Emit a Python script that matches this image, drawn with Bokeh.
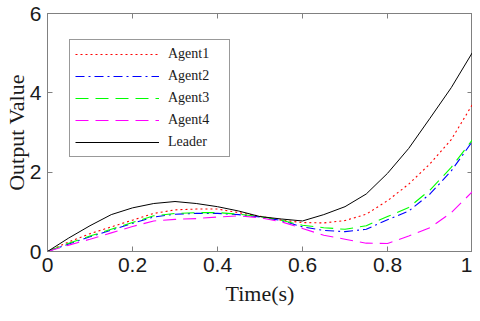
from bokeh.plotting import figure
from bokeh.models import Range1d, LinearAxis, FixedTicker, Legend, LegendItem
from bokeh.embed import file_html
from bokeh.resources import INLINE

time = [0.0, 0.05, 0.1, 0.15, 0.2, 0.25, 0.3, 0.35, 0.4, 0.45, 0.5,
        0.55, 0.6, 0.65, 0.7, 0.75, 0.8, 0.85, 0.9, 0.95, 1.0]
agent1 = [0.0, 0.24, 0.45, 0.62, 0.79, 0.96, 1.05, 1.07, 1.07, 0.98, 0.89,
          0.79, 0.73, 0.72, 0.78, 0.94, 1.28, 1.70, 2.21, 2.82, 3.71]
agent2 = [0.0, 0.19, 0.37, 0.54, 0.71, 0.87, 0.94, 0.96, 0.96, 0.93, 0.87,
          0.78, 0.62, 0.53, 0.50, 0.56, 0.80, 1.02, 1.45, 2.03, 2.78]
agent3 = [0.0, 0.21, 0.39, 0.56, 0.73, 0.90, 0.96, 0.98, 0.98, 0.94, 0.88,
          0.79, 0.66, 0.60, 0.56, 0.65, 0.88, 1.11, 1.55, 2.12, 2.82]
agent4 = [0.0, 0.16, 0.31, 0.47, 0.63, 0.77, 0.81, 0.83, 0.87, 0.90, 0.85,
          0.75, 0.58, 0.41, 0.31, 0.21, 0.20, 0.39, 0.60, 0.98, 1.51]
leader = [0.0, 0.34, 0.65, 0.93, 1.10, 1.21, 1.26, 1.21, 1.13, 1.02, 0.88,
          0.82, 0.77, 0.93, 1.13, 1.45, 1.97, 2.60, 3.36, 4.13, 5.02]

x_ticks = [0, 0.2, 0.4, 0.6, 0.8, 1]
x_labels = ["0", "0.2", "0.4", "0.6", "0.8", "1"]
y_ticks = [0, 2, 4, 6]
y_labels = ["0", "2", "4", "6"]
series_names = ["Agent1", "Agent2", "Agent3", "Agent4", "Leader"]

AX = "#808080"
p = figure(width=472, height=308, output_backend="svg", toolbar_location=None,
           x_range=Range1d(0, 1), y_range=Range1d(0, 6),
           min_border_left=0, min_border_right=0, min_border_top=13, min_border_bottom=0,
           background_fill_color="white", border_fill_color="white")
p.grid.visible = False
p.outline_line_color = AX

def style_axis(ax):
    ax.axis_line_color = AX
    ax.major_tick_line_color = AX
    ax.major_tick_in = 5
    ax.major_tick_out = 0
    ax.minor_tick_line_color = None
    ax.major_label_text_font = "Liberation Sans"
    ax.major_label_text_font_size = "21px"
    ax.major_label_text_color = "#1a1a1a"
    ax.axis_label_text_font = "Liberation Serif"
    ax.axis_label_text_font_size = "22px"
    ax.axis_label_text_font_style = "normal"
    ax.axis_label_text_color = "#1a1a1a"

xa = p.xaxis[0]
ya = p.yaxis[0]
xa.ticker = FixedTicker(ticks=x_ticks)
ya.ticker = FixedTicker(ticks=y_ticks)
xa.major_label_overrides = {t: l for t, l in zip(x_ticks, x_labels)}
ya.major_label_overrides = {t: l for t, l in zip(y_ticks, y_labels)}
xa.axis_label = "Time(s)"
ya.axis_label = "Output Value"
style_axis(xa)
style_axis(ya)
xa.major_label_standoff = 6
xa.axis_label_standoff = 6
ya.major_label_standoff = 6
ya.axis_label_standoff = -2

top = LinearAxis(ticker=FixedTicker(ticks=x_ticks))
right = LinearAxis(ticker=FixedTicker(ticks=y_ticks))
style_axis(top)
style_axis(right)
top.major_label_overrides = {t: "" for t in x_ticks}
right.major_label_overrides = {t: "" for t in y_ticks}
top.major_label_standoff = 0
right.major_label_standoff = 0
p.add_layout(top, "above")
p.add_layout(right, "right")

r1 = p.line(time, agent1, line_color="#ff0000", line_width=1.1, line_dash="2 3")
r2 = p.line(time, agent2, line_color="#0000ff", line_width=1.1, line_dash="9 4 2 4")
r3 = p.line(time, agent3, line_color="#00ff00", line_width=1.1, line_dash="13 7")
r4 = p.line(time, agent4, line_color="#ff00ff", line_width=1.1, line_dash="13 7")
r5 = p.line(time, leader, line_color="#000000", line_width=1)

legend = Legend(items=[LegendItem(label=n, renderers=[r]) for n, r in
                       zip(series_names, [r1, r2, r3, r4, r5])],
                location=(22, 94), orientation="vertical",
                label_text_font="Liberation Serif", label_text_font_size="14px",
                label_text_color="#1a1a1a",
                glyph_width=84, glyph_height=18, label_height=18, label_width=56,
                label_standoff=9, spacing=4, padding=5, margin=0,
                border_line_color="#333333", border_line_width=1,
                background_fill_color="white", background_fill_alpha=1)
p.add_layout(legend, "center")

open("out.html", "w").write(file_html(p, INLINE))
